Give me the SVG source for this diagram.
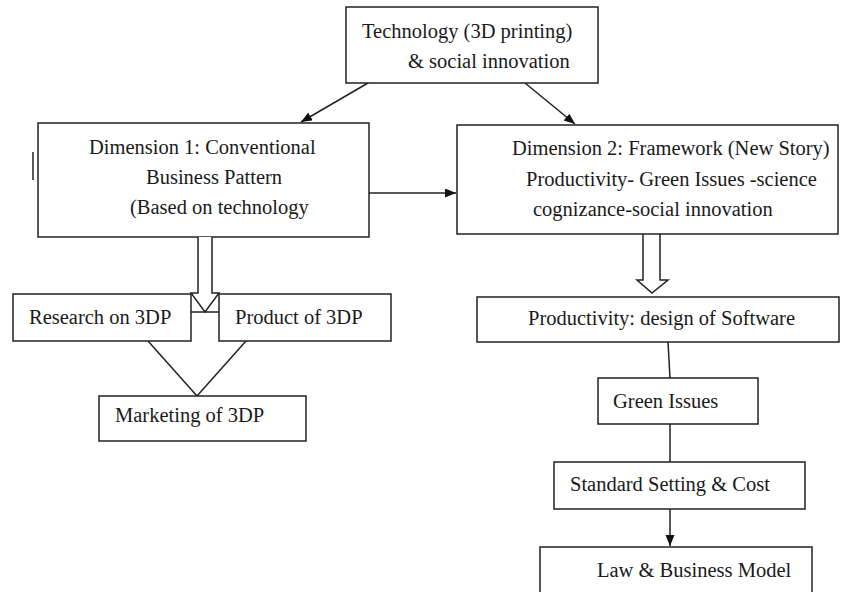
<svg xmlns="http://www.w3.org/2000/svg" width="841" height="592" viewBox="0 0 841 592">
<style>
.box{fill:#fff;stroke:#222;stroke-width:1.5}
.ln{fill:none;stroke:#222;stroke-width:1.5}
.hol{fill:#fff;stroke:#222;stroke-width:1.5;stroke-linejoin:miter}
text{font-family:"Liberation Serif","Times New Roman",serif;font-size:20.5px;fill:#1a1a1a}
</style>
<defs>
<marker id="ah" markerUnits="userSpaceOnUse" markerWidth="12" markerHeight="10" refX="11" refY="4.5" orient="auto">
<path d="M0,0 L11,4.5 L0,9 z" fill="#111"/>
</marker>
</defs>
<rect width="841" height="592" fill="#fff"/>
<g id="connectors">
<line class="ln" x1="368" y1="83" x2="301" y2="122" marker-end="url(#ah)"/>
<line class="ln" x1="525" y1="83" x2="575" y2="124" marker-end="url(#ah)"/>
<line class="ln" x1="369" y1="193" x2="456" y2="193" marker-end="url(#ah)"/>
<line class="ln" x1="668" y1="342" x2="670" y2="378"/>
<line class="ln" x1="670" y1="424" x2="670" y2="462"/>
<line class="ln" x1="670" y1="509" x2="670" y2="546" marker-end="url(#ah)"/>
<line class="ln" x1="148" y1="341" x2="197" y2="396"/>
<line class="ln" x1="246" y1="341" x2="197" y2="396"/>
<path class="hol" d="M643,234 L643,280 L637,280 L652,293 L668,280 L660,280 L660,234"/>
<line class="ln" x1="191" y1="312" x2="219" y2="312"/>
</g>
<g id="n-tech">
<rect class="box" x="346" y="7" width="252" height="76"/>
<text x="362" y="38">Technology (3D printing)</text>
<text x="408" y="68">&amp; social innovation</text>
</g>
<g id="n-dim1">
<rect class="box" x="38" y="123" width="331" height="114"/>
<text x="89" y="154">Dimension 1: Conventional</text>
<text x="146" y="184">Business Pattern</text>
<text x="130" y="214">(Based on technology</text>
<line class="ln" x1="33" y1="152" x2="33" y2="180"/>
</g>
<g id="n-dim2">
<rect class="box" x="457" y="125" width="381" height="109"/>
<text x="512" y="155">Dimension 2: Framework (New Story)</text>
<text x="526" y="186">Productivity- Green Issues -science</text>
<text x="533" y="216">cognizance-social innovation</text>
</g>
<g id="n-research">
<rect class="box" x="13" y="294" width="178" height="47"/>
<text x="29" y="324">Research on 3DP</text>
</g>
<g id="n-product">
<rect class="box" x="219" y="294" width="172" height="47"/>
<text x="235" y="324">Product of 3DP</text>
</g>
<g id="hollow-left">
<path class="hol" d="M198,237 L198,293 L191,293 L205,312 L219,293 L212,293 L212,237"/>
</g>
<g id="n-marketing">
<rect class="box" x="99" y="396" width="207" height="45"/>
<text x="115" y="422">Marketing of 3DP</text>
</g>
<g id="n-prod-soft">
<rect class="box" x="477" y="297" width="362" height="45"/>
<text x="528" y="325">Productivity: design of Software</text>
</g>
<g id="n-green">
<rect class="box" x="598" y="378" width="160" height="46"/>
<text x="613" y="408">Green Issues</text>
</g>
<g id="n-standard">
<rect class="box" x="554" y="462" width="251" height="47"/>
<text x="570" y="491">Standard Setting &amp; Cost</text>
</g>
<g id="n-law">
<rect class="box" x="540" y="547" width="272" height="60"/>
<text x="597" y="577">Law &amp; Business Model</text>
</g>
</svg>
